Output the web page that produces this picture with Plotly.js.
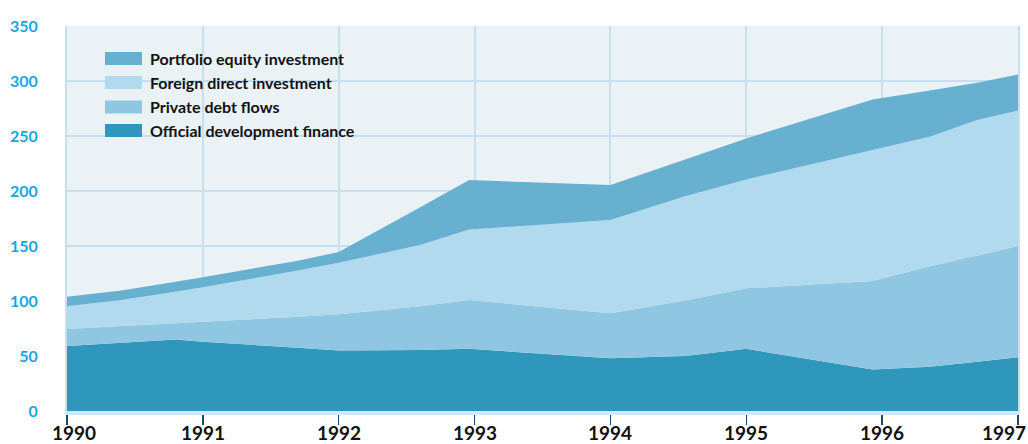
<!DOCTYPE html>
<html>
<head>
<meta charset="utf-8">
<script src="https://cdn.plot.ly/plotly-3.0.1.min.js"></script>
<style>
  html, body { margin: 0; padding: 0; background: #ffffff; }
  #chart { width: 1028px; height: 444px; }
</style>
</head>
<body>
<div id="chart"></div>
<script>
// ---- Data (billions of US$) ----
const years = [1990, 1990.4, 1990.8, 1991, 1991.7, 1992, 1992.6, 1992.96, 1994, 1994.55, 1995, 1995.93, 1996.35, 1996.7, 1997];
const official    = [59.0, 62.0, 65.0, 63.0, 57.5, 55.0, 55.5, 56.5, 47.9, 49.9, 56.5, 37.8, 40.3, 44.8, 48.9];
const privateDebt = [15.6, 15.2, 14.7, 18.2, 28.2, 32.9, 39.8, 44.4, 40.9, 50.5, 55.0, 80.4, 91.4, 96.5, 101.0];
const fdi         = [20.7, 23.7, 28.8, 31.3, 42.0, 46.8, 55.6, 64.1, 84.8, 94.9, 99.0, 119.0, 117.7, 123.2, 123.2];
const portfolio   = [8.6, 8.6, 9.1, 9.1, 9.0, 9.8, 34.3, 45.0, 31.8, 33.4, 37.3, 46.0, 41.9, 33.8, 32.8];

const seriesNames = ["Official development finance", "Private debt flows", "Foreign direct investment", "Portfolio equity investment"];
const tickYears = [1990, 1991, 1992, 1993, 1994, 1995, 1996, 1997];
const yTicks = [0, 50, 100, 150, 200, 250, 300, 350];

// ---- Styles ----
const colors = ["#2f97bb", "#8fc7e2", "#b2daef", "#67b0cf"];
const FONT = "Lato, 'Open Sans', 'DejaVu Sans', sans-serif";
const W = 1028, H = 444;
const M = {l: 67, r: 10, t: 26, b: 33};
const PW = W - M.l - M.r, PH = H - M.t - M.b;
const px2x = px => (px - M.l) / PW;
const px2y = py => (H - M.b - py) / PH;

const seriesValues = [official, privateDebt, fdi, portfolio];
const traces = seriesValues.map((vals, i) => ({
  type: 'scatter',
  x: years,
  y: vals,
  name: seriesNames[i],
  stackgroup: 'one',
  mode: 'none',
  fillcolor: colors[i],
  line: {width: 0},
  hoverinfo: 'x+y+name'
}));

// ---- Custom legend (top to bottom: reverse stack order) ----
const legendRowsY = [58.5, 82.5, 107, 130.5];
const shapes = [];
const annotations = [];
for (let k = 0; k < 4; k++) {
  const i = 3 - k;
  const cy = legendRowsY[k];
  shapes.push({
    type: 'rect', xref: 'paper', yref: 'paper',
    x0: px2x(105), x1: px2x(142), y0: px2y(cy + 6.5), y1: px2y(cy - 6.5),
    fillcolor: colors[i], line: {width: 0}, layer: 'above'
  });
  annotations.push({
    xref: 'paper', yref: 'paper', x: px2x(148), y: px2y(cy),
    xanchor: 'left', yanchor: 'middle', showarrow: false,
    text: seriesNames[i],
    font: {family: FONT, size: 16, color: '#111111', weight: 700}
  });
}
// x tick labels (edge labels nudged inward like the reference)
const xLabelShift = {1990: 7, 1997: -14};
tickYears.forEach(yr => {
  annotations.push({
    xref: 'x', yref: 'paper', x: yr, y: 0,
    xanchor: 'center', yanchor: 'top', showarrow: false,
    xshift: xLabelShift[yr] || 0, yshift: -8,
    text: String(yr),
    font: {family: FONT, size: 19, color: '#111111', weight: 700}
  });
});

const layout = {
  width: W, height: H,
  margin: M,
  paper_bgcolor: '#ffffff',
  plot_bgcolor: '#eaf2f6',
  showlegend: false,
  xaxis: {
    range: [1990, 1997],
    tickvals: tickYears,
    showticklabels: false,
    ticks: 'outside', ticklen: 10, tickwidth: 1.5, tickcolor: '#1c4a66',
    showgrid: true, gridcolor: '#c5dfef', gridwidth: 2,
    showline: true, linecolor: '#d3e8f3', linewidth: 4,
    zeroline: false, fixedrange: true
  },
  yaxis: {
    range: [0, 350],
    tickvals: yTicks,
    ticktext: yTicks.map(String),
    ticks: '',
    ticklabelstandoff: 24,
    tickfont: {family: FONT, size: 16, color: '#17a6e2', weight: 700},
    showgrid: true, gridcolor: '#c5dfef', gridwidth: 2,
    showline: true, linecolor: '#c5dfef', linewidth: 2, mirror: true,
    zeroline: false, fixedrange: true
  },
  shapes: shapes,
  annotations: annotations
};

Plotly.newPlot('chart', traces, layout, {displayModeBar: false, staticPlot: true});
</script>
</body>
</html>
